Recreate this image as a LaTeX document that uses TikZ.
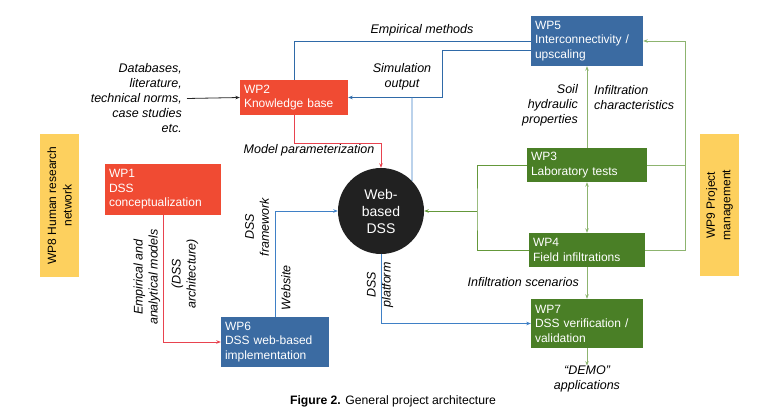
\documentclass[tikz,border=0pt]{standalone}
\usepackage{fontspec}
\setmainfont{Liberation Sans}
\usetikzlibrary{arrows.meta}
\definecolor{wpred}{HTML}{F04B33}
\definecolor{wpblue}{HTML}{3B6BA2}
\definecolor{wpgreen}{HTML}{4A7F26}
\definecolor{wpyellow}{HTML}{FDD05E}
\definecolor{lblue}{HTML}{3F80C6}
\definecolor{dblue}{HTML}{2F6AA8}
\definecolor{lred}{HTML}{E8434F}
\definecolor{lgreen}{HTML}{8DB46F}
\definecolor{mgreen}{HTML}{64983A}
\begin{document}
\begin{tikzpicture}[x=1pt,y=-1pt,
  wp/.style={rectangle, text=white, align=left, inner xsep=4pt, inner ysep=1pt,
    font=\fontsize{12}{14.5}\selectfont},
  note/.style={font=\itshape\fontsize{12.5}{15}\selectfont, inner sep=0pt},
  tip/.style={-{Stealth[length=4.5pt,width=3.5pt]}},
  tips/.style={{Stealth[length=4.5pt,width=3.5pt]}-{Stealth[length=4.5pt,width=3.5pt]}},
  bline/.style={draw=lblue, line width=0.8pt},
  dbline/.style={draw=dblue, line width=0.8pt},
  rline/.style={draw=lred, line width=0.8pt},
  gline/.style={draw=lgreen, line width=0.9pt},
  mline/.style={draw=mgreen, line width=0.9pt},
  ybox/.style={fill=wpyellow, rotate=90, align=center, inner sep=0pt,
    font=\fontsize{12}{15.5}\selectfont},
]
\useasboundingbox (0,0) rectangle (774,414);

% boxes
\node[wp, fill=wpblue, minimum height=50pt, text width=104pt] (wp5) at (587,41) {WP5\\Interconnectivity /\\upscaling};
\node[wp, fill=wpred, minimum height=35pt, text width=100pt] (wp2) at (294,97.5) {WP2\\Knowledge base};
\node[wp, fill=wpred, minimum height=51pt, text width=108pt] (wp1) at (163,189.5) {WP1\\DSS\\conceptualization};
\node[wp, fill=wpgreen, minimum height=34pt, text width=112pt] (wp3) at (587,165) {WP3\\Laboratory tests};
\node[wp, fill=wpgreen, minimum height=34pt, text width=108pt] (wp4) at (587,250) {WP4\\Field infiltrations};
\node[wp, fill=wpgreen, minimum height=49pt, text width=104pt] (wp7) at (587,323.5) {WP7\\DSS verification /\\validation};
\node[wp, fill=wpblue, minimum height=50pt, text width=100pt] (wp6) at (275,342) {WP6\\DSS web-based\\implementation};
\node[circle, fill=black!87, minimum size=86pt, inner sep=0pt, text=white, align=center,
  font=\fontsize{14}{17}\selectfont] (web) at (381,211) {Web-\\based\\DSS};
\node[ybox, minimum width=143pt, minimum height=39pt] (wp8) at (59.5,205.5) {WP8 Human research\\network};
\node[ybox, minimum width=142pt, minimum height=39pt] (wp9) at (719.5,205) {WP9 Project\\management};

% labels
\node[note] (lem) at (422,30) {Empirical methods};
\node[note, align=center] (lso) at (402,77) {Simulation\\output};
\node[note] (lmp) at (309,150) {Model parameterization};
\node[note, align=right, anchor=east] (db) at (182,98.5) {Databases,\\literature,\\technical norms,\\case studies\\etc.};
\node[note, align=right, anchor=east] (lsh) at (578,105) {Soil\\hydraulic\\properties};
\node[note, align=left, anchor=west] (lic) at (594,97.5) {Infiltration\\characteristics};
\node[note, anchor=east] (lis) at (579,282) {Infiltration scenarios};
\node[note, align=center] (demo) at (587,379) {“DEMO”\\applications};
\node[note, rotate=90, align=center] (lea) at (147,277) {Empirical and\\analytical models};
\node[note, rotate=90, align=center] (lda) at (185,274) {(DSS\\architecture)};
\node[note, rotate=90, align=center] (ldf) at (257,227) {DSS\\framework};
\node[note, rotate=90] (lws) at (286,288) {Website};
\node[note, rotate=90, align=center] (ldp) at (380,285) {DSS\\platform};
\node[font=\fontsize{12.2}{14}\selectfont] (cap) at (393,401) {\textbf{Figure 2.} General project architecture};

% coordinates
\coordinate (so) at (442,97.5);
\coordinate (sb) at (412,97.5);
\coordinate (mp) at (381,143);
\coordinate (gj) at (477,211);
\coordinate (rc) at (685,41);

% connectors
\draw[dbline] (wp5.west) -| (wp2.north);
\draw[dbline, tip] ([yshift=-9pt]wp5.west) -| (so) -- (wp2.east);
\draw[bline] (sb) -- (web.44);
\draw[rline, tip] (wp2.south) |- (mp) -- (web.north);
\draw[draw=black!85, line width=0.8pt, tip] ([xshift=5pt]db.east) -- (wp2.west);
\draw[bline, tip] (wp6.north) |- (web.west);
\draw[bline, tip] (web.south) |- (wp7.west);
\draw[rline, tip] (wp1.south) |- (wp6.west);
\draw[mline] (wp3.west) -| (gj) |- (wp4.west);
\draw[mline, tip] (gj) -- (web.east);
\draw[gline] (wp3.east) -- (wp3.east -| rc);
\draw[gline, tip] (wp4.east) -| (rc) -- (wp5.east);
\draw[gline, tip] (wp3.north) -- (wp5.south);
\draw[gline, tips] (wp3.south) -- (wp4.north);
\draw[gline, tip] (wp4.south) -- (wp7.north);
\draw[gline, tip] (wp7.south) -- (demo.north);
\end{tikzpicture}
\end{document}
